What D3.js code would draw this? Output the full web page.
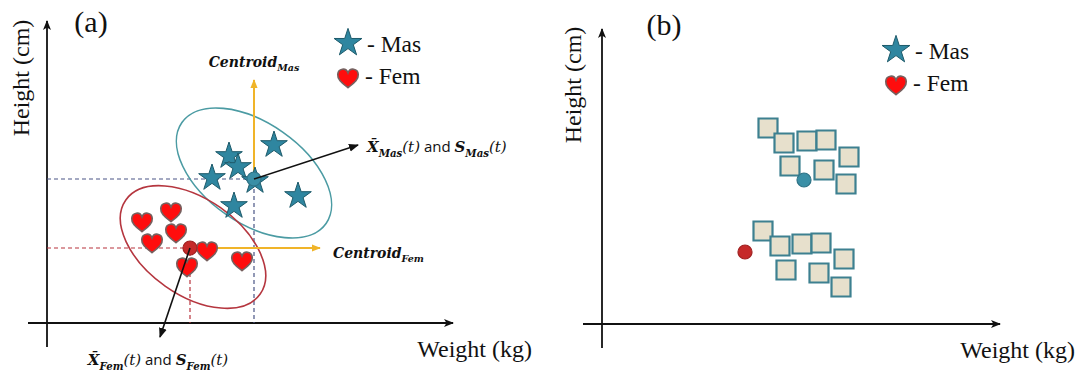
<!DOCTYPE html>
<html>
<head>
<meta charset="utf-8">
<script src="https://cdn.jsdelivr.net/npm/d3@7"></script>
<style>
  body { margin: 0; background: #fff; }
  svg { display: block; }
</style>
</head>
<body>
<div id="chart"></div>
<script>
// panel (a): labelled samples, weight (kg) / height (cm)
const masWeight = [75.4, 66.4, 68.2, 63.0, 71.6, 80.2, 67.4];
const masHeight = [175.6, 173.4, 171.2, 169.0, 168.4, 165.4, 163.4];
const femWeight = [49.0, 54.8, 55.8, 51.0, 62.0, 58.0, 69.0];
const femHeight = [160.2, 162.2, 158.0, 156.0, 154.4, 151.2, 152.4];

// centroids [weight, height]
const masCentroid = [71.4, 168.8];
const femCentroid = [58.6, 155.0];

// spread ellipses [weight, height, semi-major, semi-minor, tilt deg]
const masEllipse = [71.4, 170.0, 17.6, 10.0, 35];
const femEllipse = [59.2, 155.2, 16.4, 9.6, 35];

// annotation arrow ends (data units)
const masAxisArrowTop = 188.6;
const femAxisArrowRight = 84.6;
const masInfoArrow = [92.2, 175.6];
const femInfoArrow = [52.6, 137.2];

// panel (b): unlabelled samples
const upperWeight = [63.2, 66.4, 71.0, 74.8, 79.4, 67.6, 74.4, 78.8];
const upperHeight = [179.2, 176.2, 176.6, 176.8, 173.4, 171.6, 170.8, 168.0];
const lowerWeight = [62.2, 65.6, 70.0, 73.8, 78.4, 66.8, 73.4, 77.8];
const lowerHeight = [158.6, 155.6, 156.0, 156.2, 153.0, 150.8, 150.2, 147.4];
const upperCentroid = [70.4, 168.8];
const lowerCentroid = [58.6, 154.4];

const width = 1078;
const height = 370;
const serif = "'Liberation Serif', 'Times New Roman', Times, serif";

const colors = {
  axis: "#111",
  star: "#2f86a0",
  starEdge: "#1d5a6a",
  masDot: "#3a8fa6",
  masRing: "#4b9ba3",
  heart: "#ff0d0d",
  heartEdge: "#76605f",
  femDot: "#c62a2a",
  femRing: "#b5363f",
  yellow: "#f0b429",
  blueDash: "#4a5585",
  redDash: "#b8323c",
  squareFill: "#e7e0cc",
  squareEdge: "#3d8090",
};

const x = d3.scaleLinear().domain([30, 111]).range([0, 405]);
const y = d3.scaleLinear().domain([140, 200]).range([0, -300]);

const symbolHeart = {
  draw(context, size) {
    const k = Math.sqrt(size) / 2;
    context.moveTo(0, 0.95 * k);
    context.bezierCurveTo(-0.55 * k, 0.5 * k, -1.05 * k, 0.15 * k, -1.0 * k, -0.35 * k);
    context.bezierCurveTo(-0.95 * k, -0.95 * k, -0.2 * k, -1.05 * k, 0, -0.5 * k);
    context.bezierCurveTo(0.2 * k, -1.05 * k, 0.95 * k, -0.95 * k, 1.0 * k, -0.35 * k);
    context.bezierCurveTo(1.05 * k, 0.15 * k, 0.55 * k, 0.5 * k, 0, 0.95 * k);
    context.closePath();
  },
};

const star = d3.symbol().type(d3.symbolStar).size(220);
const heart = d3.symbol().type(symbolHeart).size(420);
const square = d3.symbol().type(d3.symbolSquare).size(361);

const svg = d3
  .select("#chart")
  .append("svg")
  .attr("width", width)
  .attr("height", height)
  .attr("font-family", serif);

const defs = svg.append("defs");
function marker(id, color, d, size) {
  defs
    .append("marker")
    .attr("id", id)
    .attr("viewBox", "0 -5 10 10")
    .attr("refX", 9)
    .attr("refY", 0)
    .attr("markerUnits", "userSpaceOnUse")
    .attr("markerWidth", size)
    .attr("markerHeight", size)
    .attr("orient", "auto")
    .append("path")
    .attr("d", d)
    .attr("fill", color);
}
marker("axisHead", colors.axis, "M0,-4L10,0L0,4L2.5,0Z", 10);
marker("blackHead", colors.axis, "M0,-4L10,0L0,4Z", 10);
marker("yellowHead", colors.yellow, "M0,-4L10,0L0,4Z", 9);

const panels = [
  { tag: "(a)", origin: [47, 323], xExtent: [-19, 406], yExtent: [24, -302],
    tagPos: [44, -291], legend: [301, -280], heightLabel: [-26, -245], weightLabel: [485, 34] },
  { tag: "(b)", origin: [602, 324], xExtent: [-19, 398], yExtent: [24, -295],
    tagPos: [62, -289], legend: [294, -274], heightLabel: [-29, -239], weightLabel: [473, 34] },
];

function serifText(g) {
  return g.append("text").attr("font-family", serif).attr("fill", "#111");
}

const gs = panels.map((p) => {
  const g = svg.append("g").attr("transform", `translate(${p.origin})`);

  g.append("line")
    .attr("x1", p.xExtent[0]).attr("x2", p.xExtent[1])
    .attr("y1", y(140)).attr("y2", y(140))
    .attr("stroke", colors.axis).attr("stroke-width", 1.8)
    .attr("marker-end", "url(#axisHead)");
  g.append("line")
    .attr("x1", x(30)).attr("x2", x(30))
    .attr("y1", p.yExtent[0]).attr("y2", p.yExtent[1])
    .attr("stroke", colors.axis).attr("stroke-width", 1.8)
    .attr("marker-end", "url(#axisHead)");

  serifText(g)
    .attr("x", p.tagPos[0]).attr("y", p.tagPos[1])
    .attr("text-anchor", "middle")
    .attr("font-size", 30)
    .text(p.tag);

  serifText(g)
    .attr("transform", `translate(${p.heightLabel}) rotate(-90)`)
    .attr("text-anchor", "middle")
    .attr("dy", "0.35em")
    .attr("font-size", 24)
    .text("Height (cm)");

  serifText(g)
    .attr("x", p.weightLabel[0]).attr("y", p.weightLabel[1])
    .attr("text-anchor", "end")
    .attr("font-size", 24)
    .text("Weight (kg)");

  // legend
  const lg = g.append("g").attr("transform", `translate(${p.legend})`);
  lg.append("path")
    .attr("d", d3.symbol().type(d3.symbolStar).size(240))
    .attr("fill", colors.star).attr("stroke", colors.starEdge).attr("stroke-width", 1);
  lg.append("path")
    .attr("transform", "translate(0,35)")
    .attr("d", heart)
    .attr("fill", colors.heart).attr("stroke", colors.heartEdge).attr("stroke-width", 1.6);
  serifText(lg).attr("x", 19).attr("y", 9).attr("font-size", 23.5).text("- Mas");
  serifText(lg).attr("x", 17).attr("y", 41).attr("font-size", 23.5).text("- Fem");

  return g;
});

// ---------- panel (a)
const ga = gs[0];
const mas = masWeight.map((w, i) => ({ w, h: masHeight[i] }));
const fem = femWeight.map((w, i) => ({ w, h: femHeight[i] }));

function dashes(c, color) {
  ga.append("path")
    .attr("d", d3.line()([[x(30), y(c[1])], [x(c[0]), y(c[1])], [x(c[0]), y(140)]]))
    .attr("fill", "none")
    .attr("stroke", color)
    .attr("stroke-width", 1.2)
    .attr("stroke-dasharray", "4,3");
}
dashes(masCentroid, colors.blueDash);
dashes(femCentroid, colors.redDash);

function ellipse(e, color) {
  ga.append("ellipse")
    .attr("transform", `translate(${x(e[0])},${y(e[1])}) rotate(${e[4]})`)
    .attr("rx", x(30 + e[2]) - x(30))
    .attr("ry", x(30 + e[3]) - x(30))
    .attr("fill", "none")
    .attr("stroke", color)
    .attr("stroke-width", 1.6);
}
ellipse(masEllipse, colors.masRing);
ellipse(femEllipse, colors.femRing);

// centroid direction arrows
ga.append("line")
  .attr("x1", x(masCentroid[0])).attr("y1", y(masCentroid[1]))
  .attr("x2", x(masCentroid[0])).attr("y2", y(masAxisArrowTop))
  .attr("stroke", colors.yellow).attr("stroke-width", 2)
  .attr("marker-end", "url(#yellowHead)");
ga.append("line")
  .attr("x1", x(femCentroid[0])).attr("y1", y(femCentroid[1]))
  .attr("x2", x(femAxisArrowRight)).attr("y2", y(femCentroid[1]))
  .attr("stroke", colors.yellow).attr("stroke-width", 2)
  .attr("marker-end", "url(#yellowHead)");

ga.append("g")
  .selectAll("path")
  .data(mas)
  .join("path")
  .attr("transform", (d) => `translate(${x(d.w)},${y(d.h)})`)
  .attr("d", star)
  .attr("fill", colors.star)
  .attr("stroke", colors.starEdge)
  .attr("stroke-width", 1);

ga.append("g")
  .selectAll("path")
  .data(fem)
  .join("path")
  .attr("transform", (d) => `translate(${x(d.w)},${y(d.h)})`)
  .attr("d", heart)
  .attr("fill", colors.heart)
  .attr("stroke", colors.heartEdge)
  .attr("stroke-width", 1.6);

function dot(g, c, fill) {
  g.append("circle")
    .attr("cx", x(c[0])).attr("cy", y(c[1]))
    .attr("r", 7)
    .attr("fill", fill)
    .attr("stroke", d3.color(fill).darker(0.6))
    .attr("stroke-width", 1.2);
}
dot(ga, masCentroid, colors.masDot);
dot(ga, femCentroid, colors.femDot);

function infoArrow(c, end) {
  ga.append("line")
    .attr("x1", x(c[0])).attr("y1", y(c[1]))
    .attr("x2", x(end[0])).attr("y2", y(end[1]))
    .attr("stroke", colors.axis).attr("stroke-width", 1.6)
    .attr("marker-end", "url(#blackHead)");
}
infoArrow(masCentroid, masInfoArrow);
infoArrow(femCentroid, femInfoArrow);

// math style labels
const fontStyles = {
  bi: { family: "'DejaVu Serif', serif", weight: "bold", style: "italic" },
  i: { family: "'DejaVu Serif', serif", weight: "normal", style: "italic" },
  sans: { family: "'Open Sans', 'Liberation Sans', sans-serif", weight: "normal", style: "normal" },
};
function mathLabel(px, py, anchor, size, parts) {
  const t = ga.append("text")
    .attr("x", px).attr("y", py)
    .attr("text-anchor", anchor)
    .attr("font-size", size)
    .attr("fill", "#111");
  let lowered = false;
  parts.forEach(([s, kind]) => {
    const sub = kind === "sub";
    const f = fontStyles[sub ? "bi" : kind];
    let dy = 0;
    if (sub && !lowered) { dy = size * 0.3; lowered = true; }
    if (!sub && lowered) { dy = -size * 0.3; lowered = false; }
    t.append("tspan")
      .attr("dy", dy)
      .attr("font-family", f.family)
      .attr("font-weight", f.weight)
      .attr("font-style", f.style)
      .attr("font-size", sub ? size * 0.68 : size)
      .text(s);
  });
}

mathLabel(x(masCentroid[0]), y(masAxisArrowTop) - 13, "middle", 14,
  [["Centroid", "bi"], ["Mas", "sub"]]);
mathLabel(x(femAxisArrowRight) + 13, y(femCentroid[1]) + 10, "start", 14,
  [["Centroid", "bi"], ["Fem", "sub"]]);
mathLabel(x(masInfoArrow[0]) + 9, y(masInfoArrow[1]) + 7, "start", 15,
  [["X\u0304", "bi"], ["Mas", "sub"], ["(t)", "i"], [" and ", "sans"], ["S", "bi"], ["Mas", "sub"], ["(t)", "i"]]);
mathLabel(x(femInfoArrow[0]) - 2, y(femInfoArrow[1]) + 28, "middle", 15,
  [["X\u0304", "bi"], ["Fem", "sub"], ["(t)", "i"], [" and ", "sans"], ["S", "bi"], ["Fem", "sub"], ["(t)", "i"]]);

// ---------- panel (b)
const gb = gs[1];
const squares = upperWeight
  .map((w, i) => ({ w, h: upperHeight[i] }))
  .concat(lowerWeight.map((w, i) => ({ w, h: lowerHeight[i] })));

gb.append("g")
  .selectAll("path")
  .data(squares)
  .join("path")
  .attr("transform", (d) => `translate(${x(d.w)},${y(d.h)})`)
  .attr("d", square)
  .attr("fill", colors.squareFill)
  .attr("stroke", colors.squareEdge)
  .attr("stroke-width", 2.2);

dot(gb, upperCentroid, colors.masDot);
dot(gb, lowerCentroid, colors.femDot);
</script>
</body>
</html>
